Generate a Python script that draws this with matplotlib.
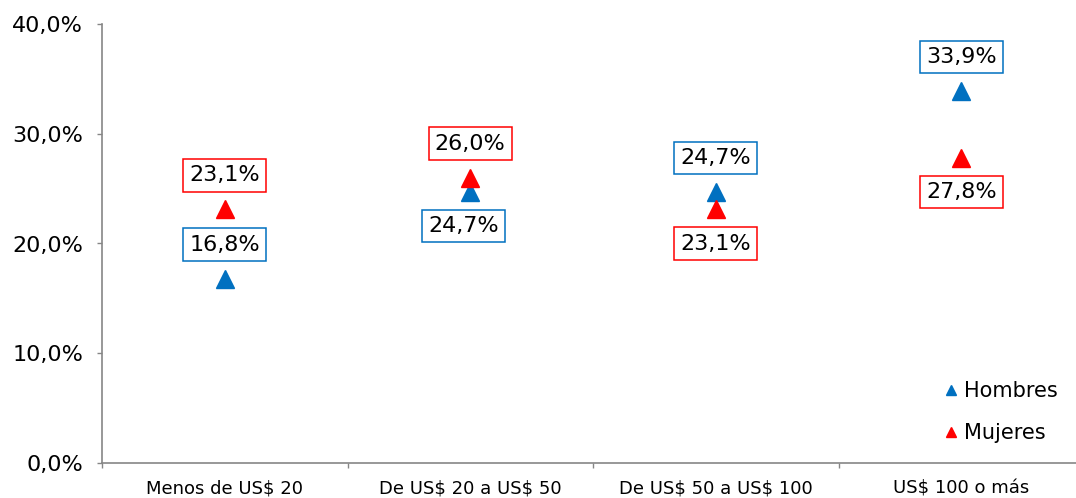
import matplotlib
matplotlib.use('Agg')
import matplotlib.pyplot as plt
import numpy as np

# Data
categories = ['Menos de US$ 20', 'De US$ 20 a US$ 50', 'De US$ 50 a US$ 100', 'US$ 100 o más']
hombres = [16.8, 24.7, 24.7, 33.9]
mujeres = [23.1, 26.0, 23.1, 27.8]
# label side for each point: +1 above, -1 below
hombres_side = [1, -1, 1, 1]
mujeres_side = [1, 1, -1, -1]

colors = {'hombres': '#0070C0', 'mujeres': '#FF0000'}


def fmt(v):
    return f'{v:.1f}%'.replace('.', ',')


plt.rcParams['font.family'] = ['DejaVu Sans']
plt.rcParams['text.parse_math'] = False

fig = plt.figure(figsize=(10.76, 4.98), dpi=100)
ax = fig.add_axes([102 / 1076, 35 / 498, 982 / 1076, 439 / 498])

x = np.arange(len(categories))
ax.plot(x, hombres, linestyle='none', marker='^', markersize=13,
        color=colors['hombres'], label='Hombres')
ax.plot(x, mujeres, linestyle='none', marker='^', markersize=13,
        color=colors['mujeres'], label='Mujeres')

# Value labels in boxes
for series, sides, key in [(hombres, hombres_side, 'hombres'),
                           (mujeres, mujeres_side, 'mujeres')]:
    for i, (v, s) in enumerate(zip(series, sides)):
        dx = -5 if (key == 'hombres' and i == 1) else 0
        ax.annotate(fmt(v), (i, v), xytext=(dx, 24.5 * s), textcoords='offset points',
                    ha='center', va='center', fontsize=16, color='black',
                    bbox=dict(boxstyle='square,pad=0.28', facecolor='white',
                              edgecolor=colors[key], linewidth=1.1))

ax.set_xlim(-0.5, len(categories) - 0.5)
ax.set_ylim(0, 40)
ax.set_yticks([0, 10, 20, 30, 40])
ax.set_yticklabels([fmt(t) for t in [0, 10, 20, 30, 40]])

# category boundaries as ticks, labels at centers
ax.set_xticks(np.arange(len(categories) + 1) - 0.5)
ax.set_xticklabels([])
ax.set_xticks(x, minor=True)
ax.set_xticklabels(categories, minor=True)

ax.tick_params(axis='y', labelsize=16, length=3.6, width=1, color='#868686', pad=10)
ax.tick_params(axis='x', which='major', length=3.6, width=1, color='#868686')
ax.tick_params(axis='x', which='minor', length=0, labelsize=13, pad=12)

for side in ['top', 'right']:
    ax.spines[side].set_visible(False)
for side in ['left', 'bottom']:
    ax.spines[side].set_color('#868686')
    ax.spines[side].set_linewidth(1.2)

ax.legend(loc='center left', bbox_to_anchor=(926 / 1076, (498 - 412) / 498),
          bbox_transform=fig.transFigure, frameon=False, fontsize=15,
          markerscale=0.55, handlelength=0.6, handletextpad=0.3,
          labelspacing=1.05, numpoints=1)

fig.savefig('out.png', dpi=100, facecolor='white')
